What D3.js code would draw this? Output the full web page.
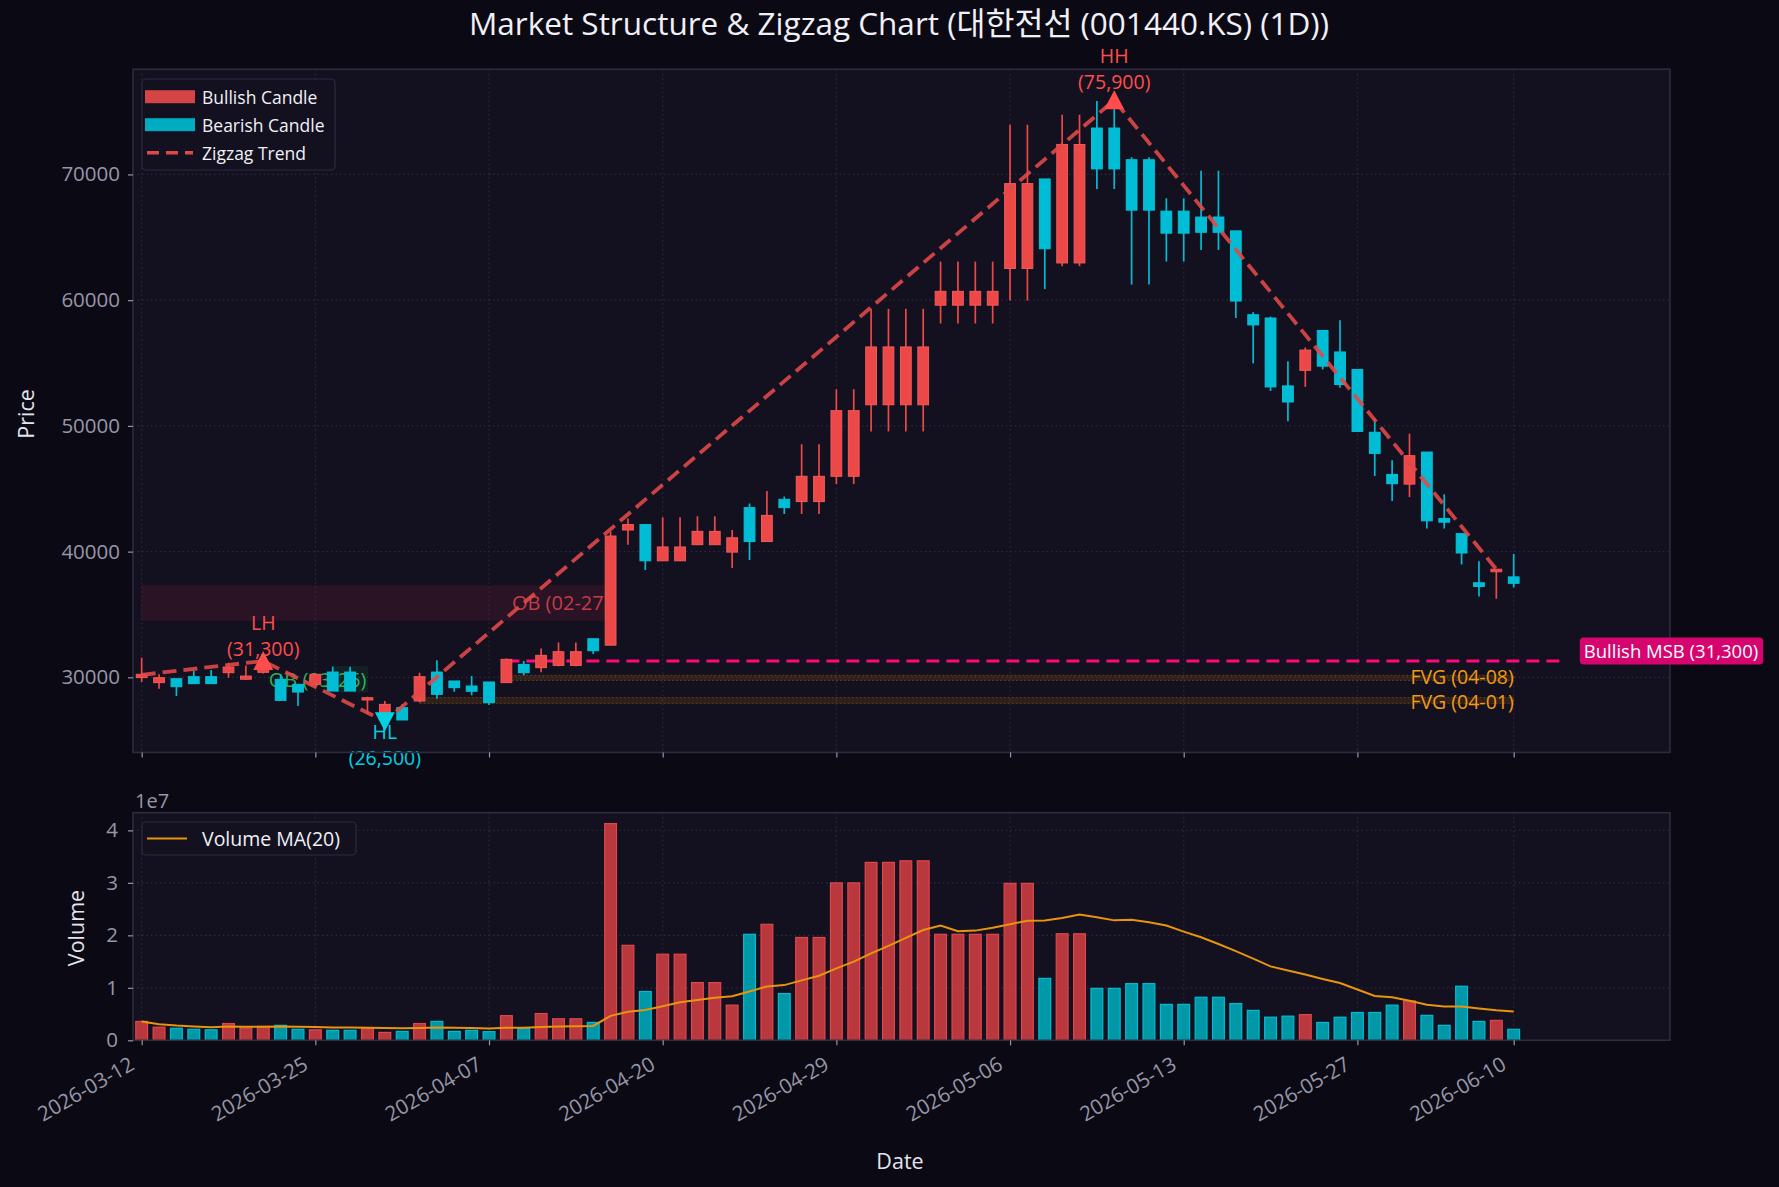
<!DOCTYPE html>
<html><head><meta charset="utf-8">
<script src="https://cdn.jsdelivr.net/npm/d3@7"></script>
<style>
html,body{margin:0;padding:0;background:#0b0a14;}
svg{display:block;}
text{font-family:'Open Sans','Noto Sans CJK KR',sans-serif;}
</style></head><body>
<svg id="chart" width="1779" height="1187"></svg>
<script>
// ---------- data ----------
const tickIndex = [0,10,20,30,40,50,60,70,79];
const tickLabels = ['2026-03-12','2026-03-25','2026-04-07','2026-04-20','2026-04-29','2026-05-06','2026-05-13','2026-05-27','2026-06-10'];
const priceTicks = [30000,40000,50000,60000,70000];
const volumeTicks = [0,1e7,2e7,3e7,4e7];

const opens = [29980,29580,29890,30050,30050,30370,29850,30400,29840,29440,
  29440,30420,30420,28200,27190,27590,28120,30420,29710,29310,
  29630,29580,31030,30770,30950,30950,33070,32560,41720,42150,
  39270,39270,40550,40550,39960,43500,40800,44160,43980,43980,
  45990,45990,51680,51680,51680,51680,59600,59600,59600,59600,
  62520,62520,69640,62960,62960,73690,73690,71170,71170,67080,
  67080,66610,66610,65510,58840,58580,53180,54420,57590,55880,
  54490,49490,46130,45370,47920,42630,41430,37520,38400,37990];
const highs = [31560,30240,29890,30500,30580,31170,30950,31300,30240,29440,
  30300,30850,30850,28450,28120,27850,30370,31350,29710,30100,
  29630,31500,31300,32300,32770,32770,33070,41600,42630,42150,
  42740,42740,42810,42810,41720,43830,44820,44380,48540,48540,
  52920,52920,59310,59310,59310,59310,63070,63070,63070,63070,
  73950,73950,69640,74750,74750,75840,75900,71360,71360,68110,
  68110,70300,70300,65510,59050,58690,55150,56240,57590,58400,
  54490,50590,47270,49380,47920,44560,41430,39240,38600,39820];
const lows = [29630,29100,28520,29500,29500,29970,29790,30300,28170,27720,
  29400,28910,28910,27060,26500,26610,27990,28300,28860,28570,
  27800,29580,30160,30400,30880,30880,31860,32560,40550,38540,
  39270,39270,40550,40550,38690,39340,40800,42990,42990,42990,
  45370,45370,49560,49560,49560,49560,58140,58140,58140,58140,
  59970,59970,60880,62700,62700,68840,68840,61240,61240,63070,
  63070,63980,63980,58580,54970,52780,50370,53100,54490,53030,
  49560,46020,44020,44340,41830,41830,38980,36420,36250,37150];
const closes = [30240,29970,29260,29500,29500,30820,30100,31000,28170,28830,
  30240,28910,28910,28380,27850,26610,30050,28650,29180,28890,
  27990,31430,30370,31750,32040,32040,32120,41240,42150,39270,
  40370,40370,41610,41610,41100,40800,42880,43500,45990,45990,
  51210,51210,56280,56280,56280,56280,60700,60700,60700,60700,
  69270,69270,64090,72380,72380,70440,70440,67160,67160,65330,
  65330,65400,65400,59930,58030,53100,51900,56030,54750,53290,
  49560,47810,45400,47630,42450,42340,39890,37230,38600,37480];
const volumes = [3.6e6,2.5e6,2.3e6,2.1e6,2.0e6,3.2e6,2.35e6,2.65e6,2.85e6,2.1e6,
  2.0e6,1.9e6,1.9e6,2.3e6,1.5e6,1.7e6,3.2e6,3.6e6,1.7e6,1.9e6,
  1.65e6,4.7e6,2.3e6,5.1e6,4.1e6,4.1e6,3.4e6,41.3e6,18.1e6,9.3e6,
  16.4e6,16.4e6,11.0e6,11.0e6,6.7e6,20.2e6,22.1e6,8.9e6,19.6e6,19.6e6,
  30.0e6,30.0e6,33.9e6,33.9e6,34.2e6,34.2e6,20.2e6,20.2e6,20.2e6,20.2e6,
  29.9e6,29.9e6,11.8e6,20.3e6,20.3e6,9.9e6,9.9e6,10.8e6,10.8e6,6.85e6,
  6.85e6,8.2e6,8.2e6,7.0e6,5.7e6,4.4e6,4.6e6,4.9e6,3.4e6,4.4e6,
  5.3e6,5.3e6,6.7e6,7.5e6,4.75e6,2.85e6,10.3e6,3.6e6,3.8e6,2.1e6];

const zigzagIndex = [0,7,14,56,78];
const zigzagPrice = [30200,31300,26500,75900,38600];
const pivotIndex = [7,14,56];
const pivotPrice = [31300,26500,75900];
const pivotType = ['LH','HL','HH'];

const obStart = [0,11];
const obEnd = [27,13];
const obLow = [34530,28830];
const obHigh = [37300,30870];
const obLabel = ['OB (02-27)','OB (03-26)'];
const obBull = [false,true];

const fvgStart = [21,16];
const fvgEnd = [79,79];
const fvgLow = [29760,27930];
const fvgHigh = [30160,28390];
const fvgLabel = ['FVG (04-08)','FVG (04-01)'];

const msbStart = 21, msbEnd = 82, msbPrice = 31300;
const msbLabel = 'Bullish MSB (31,300)';
const maWindow = 20;

// ---------- layout / style ----------
const L = 133, R = 1670, mTop = 69.2, mBot = 752.4, vTop = 812.7, vBot = 1040.3;
const C = {
  fig:'#0b0a14', ax:'#13111f', grid:'#2c2a3c', spine:'#2e2b40', tick:'#9896a8', label:'#e4e4ec',
  bull:'#ec4848', bullEdge:'#f45a5a', bear:'#00bcd4', bearEdge:'#00c4da',
  vBull:'#b9383e', vBullEdge:'#e0474b', vBear:'#0097a7', vBearEdge:'#00bcd4',
  zig:'#e04848', msb:'#ff0a78', ma:'#e8940c', fvg:'#ff9800'
};
const pivotOffsets = {LH:[-38.5,-12], HH:[-44.5,-18], HL:[10.5,37]};
const FONT = "'Open Sans','Noto Sans CJK KR',sans-serif";

const svg = d3.select('#chart');
svg.append('rect').attr('width',1779).attr('height',1187).attr('fill',C.fig);

const x = d3.scaleLinear().domain([-0.5, 88]).range([L, R]);
const y = d3.scaleLinear().domain([24030, 78370]).range([mBot, mTop]);
const yv = d3.scaleLinear().domain([0, 43.37e6]).range([vBot, vTop]);

const defs = svg.append('defs');
defs.append('clipPath').attr('id','clipMain').append('rect').attr('x',L).attr('y',mTop).attr('width',R-L).attr('height',mBot-mTop);
defs.append('clipPath').attr('id','clipVol').append('rect').attr('x',L).attr('y',vTop).attr('width',R-L).attr('height',vBot-vTop);

// panels
svg.append('rect').attr('x',L).attr('y',mTop).attr('width',R-L).attr('height',mBot-mTop).attr('fill',C.ax);
svg.append('rect').attr('x',L).attr('y',vTop).attr('width',R-L).attr('height',vBot-vTop).attr('fill',C.ax);

// grids
function grid(yScale, yTicks, top, bot){
  const g = svg.append('g');
  g.selectAll('line.v').data(tickIndex).join('line')
    .attr('x1',d=>x(d)).attr('x2',d=>x(d)).attr('y1',top).attr('y2',bot)
    .attr('stroke',C.grid).attr('stroke-width',1.2).attr('stroke-dasharray','1.5,3');
  g.selectAll('line.h').data(yTicks).join('line')
    .attr('x1',L).attr('x2',R).attr('y1',d=>yScale(d)).attr('y2',d=>yScale(d))
    .attr('stroke',C.grid).attr('stroke-width',1.2).attr('stroke-dasharray','1.5,3');
}
grid(y, priceTicks, mTop, mBot);
grid(yv, volumeTicks, vTop, vBot);

const main = svg.append('g').attr('clip-path','url(#clipMain)');
const idx = d3.range(opens.length);

// order blocks
obStart.forEach((s,k)=>{
  const col = obBull[k] ? '#1f9e4a' : '#e0245e';
  main.append('rect').attr('x',x(s)).attr('width',x(obEnd[k])-x(s))
    .attr('y',y(obHigh[k])).attr('height',y(obLow[k])-y(obHigh[k]))
    .attr('fill',col).attr('fill-opacity',obBull[k]?0.12:0.11)
    .attr('stroke',col).attr('stroke-opacity',0.15).attr('stroke-dasharray','2,2');
});
// FVGs
fvgStart.forEach((s,k)=>{
  main.append('rect').attr('x',x(s)).attr('width',x(fvgEnd[k])-x(s))
    .attr('y',y(fvgHigh[k])).attr('height',y(fvgLow[k])-y(fvgHigh[k]))
    .attr('fill',C.fvg).attr('fill-opacity',0.12)
    .attr('stroke',C.fvg).attr('stroke-opacity',0.3).attr('stroke-dasharray','2,2');
});
// OB labels (beneath candles)
obStart.forEach((s,k)=>{
  main.append('text').attr('x',x(obEnd[k])-1).attr('y',y((obLow[k]+obHigh[k])/2))
    .attr('text-anchor','end').attr('dominant-baseline','central')
    .attr('font-size',20).attr('fill',obBull[k]?'#2fcf62':'#e0454f').attr('fill-opacity',0.85)
    .text(obLabel[k]);
});
// MSB line
main.append('line').attr('x1',x(msbStart)).attr('x2',x(msbEnd)).attr('y1',y(msbPrice)).attr('y2',y(msbPrice))
  .attr('stroke',C.msb).attr('stroke-width',3).attr('stroke-dasharray','13,7');

// candles
const bw = x(0.62) - x(0);
const cg = main.append('g');
idx.forEach(i=>{
  const up = closes[i] >= opens[i];
  const col = up ? C.bull : C.bear, edge = up ? C.bullEdge : C.bearEdge;
  cg.append('line').attr('x1',x(i)).attr('x2',x(i)).attr('y1',y(highs[i])).attr('y2',y(lows[i]))
    .attr('stroke',col).attr('stroke-width',1.7);
  const top = y(Math.max(opens[i],closes[i])), bot = y(Math.min(opens[i],closes[i]));
  cg.append('rect').attr('x',x(i)-bw/2).attr('width',bw).attr('y',top).attr('height',Math.max(1.5,bot-top))
    .attr('fill',col).attr('stroke',edge).attr('stroke-width',1);
});

// zigzag
const zz = zigzagIndex.map((d,k)=>[d, zigzagPrice[k]]);
main.append('path').datum(zz)
  .attr('d', d3.line().x(d=>x(d[0])).y(d=>y(d[1])))
  .attr('fill','none').attr('stroke',C.zig).attr('stroke-width',3.8).attr('stroke-opacity',0.9)
  .attr('stroke-dasharray','14,7');

// FVG labels
fvgStart.forEach((s,k)=>{
  svg.append('text').attr('x',x(fvgEnd[k])).attr('y',y((fvgLow[k]+fvgHigh[k])/2) + (k===0?-1:1))
    .attr('text-anchor','end').attr('dominant-baseline','central')
    .attr('font-size',19.5).attr('fill','#f29a12').text(fvgLabel[k]);
});

// pivot markers + labels (one two-line text each)
pivotIndex.forEach((p,k)=>{
  const isHigh = pivotType[k] !== 'HL';
  const col = isHigh ? '#ff4d4d' : '#00d2e4';
  const px = x(p), py = y(pivotPrice[k]);
  svg.append('path').attr('transform',`translate(${px},${py})`)
    .attr('d', isHigh ? 'M0,-10L10,9L-10,9Z' : 'M0,10L10,-9L-10,-9Z').attr('fill',col);
  const lab = '(' + d3.format(',')(pivotPrice[k]) + ')';
  const off = pivotOffsets[pivotType[k]];
  const t = svg.append('text').attr('text-anchor','middle').attr('font-size',19.5).attr('fill',col);
  t.append('tspan').attr('x',px).attr('y',py+off[0]).attr('dy','0.36em').text(pivotType[k]);
  t.append('tspan').attr('x',px).attr('y',py+off[1]).attr('dy','0.36em').text(lab);
});

// volume bars
const vg = svg.append('g').attr('clip-path','url(#clipVol)');
const vbw = x(0.68) - x(0);
idx.forEach(i=>{
  const up = closes[i] >= opens[i];
  vg.append('rect').attr('x',x(i)-vbw/2).attr('width',vbw).attr('y',yv(volumes[i])).attr('height',yv(0)-yv(volumes[i]))
    .attr('fill',up?C.vBull:C.vBear).attr('stroke',up?C.vBullEdge:C.vBearEdge).attr('stroke-width',1.2);
});
// volume MA (rolling mean of the volume array)
const ma = idx.map(i=>d3.mean(volumes.slice(Math.max(0,i-maWindow+1), i+1)));
vg.append('path').datum(ma).attr('d', d3.line().x((d,i)=>x(i)).y(d=>yv(d)))
  .attr('fill','none').attr('stroke',C.ma).attr('stroke-width',2);

// spines
[[mTop,mBot],[vTop,vBot]].forEach(([t,b])=>{
  svg.append('rect').attr('x',L).attr('y',t).attr('width',R-L).attr('height',b-t)
    .attr('fill','none').attr('stroke',C.spine).attr('stroke-width',1.6);
});

// MSB label (above spine)
{
  const ty = y(msbPrice) - 10;
  const g = svg.append('g');
  const t = g.append('text').attr('x',x(msbEnd)+18).attr('y',ty).attr('dominant-baseline','central')
    .attr('font-size',18.5).attr('fill','#ffffff').text(msbLabel);
  const bb = t.node().getBBox();
  g.insert('rect','text').attr('x',bb.x-4).attr('y',ty-13.5).attr('width',bb.width+9).attr('height',27)
    .attr('rx',4).attr('fill','#d6046e');
}

// axes
function styleAxis(g){
  g.select('.domain').remove();
  g.selectAll('line').attr('stroke',C.tick).attr('stroke-width',1.2);
  g.selectAll('text').attr('fill',C.tick).attr('font-size',20.5).attr('font-family',FONT);
}
svg.append('g').attr('transform',`translate(${L},0)`)
  .call(d3.axisLeft(y).tickValues(priceTicks).tickFormat(d3.format('d')).tickSize(5).tickPadding(8)).call(styleAxis);
svg.append('g').attr('transform',`translate(${L},0)`)
  .call(d3.axisLeft(yv).tickValues(volumeTicks).tickFormat(d=>d/1e7).tickSize(5).tickPadding(10)).call(styleAxis);
svg.append('g').attr('transform',`translate(0,${mBot})`)
  .call(d3.axisBottom(x).tickValues(tickIndex).tickFormat('').tickSize(5)).call(styleAxis);
const xa = svg.append('g').attr('transform',`translate(0,${vBot})`)
  .call(d3.axisBottom(x).tickValues(tickIndex).tickFormat((d,i)=>tickLabels[i]).tickSize(5)).call(styleAxis);
xa.selectAll('text').attr('text-anchor','end').attr('x',-14).attr('y',15).attr('dy','0.74em')
  .attr('transform','rotate(-30,-14,15)');

svg.append('text').attr('x',L+2).attr('y',808).attr('font-size',20).attr('fill',C.tick).text('1e7');

// axis labels & title
svg.append('text').attr('x',899).attr('y',22).attr('text-anchor','middle').attr('dominant-baseline','central')
  .attr('font-size',31.5).attr('fill','#f0f0f6').text('Market Structure & Zigzag Chart (대한전선 (001440.KS) (1D))');
svg.append('text').attr('transform','translate(25,414) rotate(-90)').attr('text-anchor','middle').attr('dominant-baseline','central')
  .attr('font-size',21.5).attr('fill',C.label).text('Price');
svg.append('text').attr('transform','translate(75,928) rotate(-90)').attr('text-anchor','middle').attr('dominant-baseline','central')
  .attr('font-size',21.5).attr('fill',C.label).text('Volume');
svg.append('text').attr('x',900).attr('y',1160).attr('text-anchor','middle').attr('dominant-baseline','central')
  .attr('font-size',21.5).attr('fill',C.label).text('Date');

// legend (main)
{
  const g = svg.append('g');
  g.append('rect').attr('x',142).attr('y',79).attr('width',193).attr('height',91).attr('rx',4)
    .attr('fill',C.ax).attr('fill-opacity',0.92).attr('stroke','#2d2a40').attr('stroke-width',1.2);
  const items = [['Bullish Candle','bull'],['Bearish Candle','bear'],['Zigzag Trend','zig']];
  items.forEach((it,k)=>{
    const cy = 96.7 + k*28;
    if(it[1]==='zig'){
      g.append('line').attr('x1',147).attr('x2',193).attr('y1',cy).attr('y2',cy)
        .attr('stroke',C.zig).attr('stroke-width',3.5).attr('stroke-dasharray','12,7');
    } else {
      g.append('rect').attr('x',145).attr('y',cy-6.5).attr('width',50).attr('height',13)
        .attr('fill',it[1]==='bull'?'#d64545':'#00acc1');
    }
    g.append('text').attr('x',202).attr('y',cy).attr('dominant-baseline','central')
      .attr('font-size',17.5).attr('fill','#f0f0f6').text(it[0]);
  });
}
// legend (volume)
{
  const g = svg.append('g');
  g.append('rect').attr('x',142).attr('y',822).attr('width',214).attr('height',33).attr('rx',4)
    .attr('fill',C.ax).attr('fill-opacity',0.92).attr('stroke','#2d2a40').attr('stroke-width',1.2);
  g.append('line').attr('x1',147).attr('x2',187).attr('y1',838.5).attr('y2',838.5).attr('stroke',C.ma).attr('stroke-width',2);
  g.append('text').attr('x',202).attr('y',838.5).attr('dominant-baseline','central')
    .attr('font-size',19.5).attr('fill','#f0f0f6').text('Volume MA(20)');
}
</script>
</body></html>
